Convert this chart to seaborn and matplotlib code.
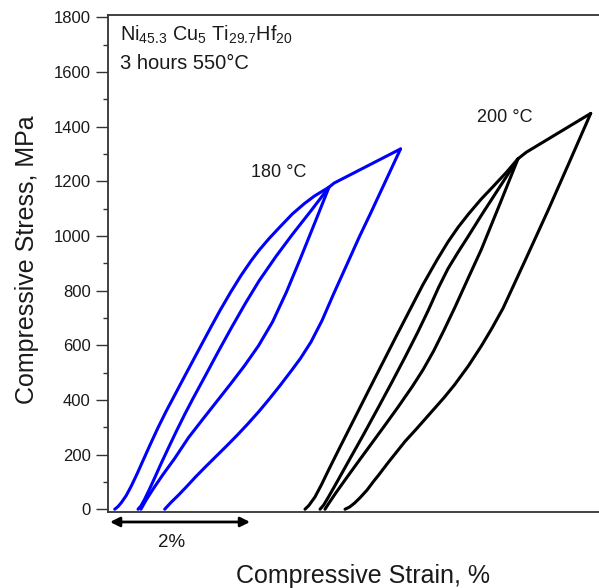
import numpy as np
import pandas as pd
import matplotlib
matplotlib.use("Agg")
import matplotlib.pyplot as plt
import matplotlib.transforms as mtransforms
from matplotlib.ticker import MultipleLocator
import seaborn as sns

# ---------------- data (strain %, stress MPa) ----------------
# 180 °C
strain_180_load1 = [0.096, 0.14, 0.19, 0.26, 0.333, 0.42, 0.50, 0.60, 0.714, 0.83, 0.96, 1.096,
                    1.20, 1.35, 1.476, 1.60, 1.75, 1.90, 2.05, 2.157, 2.30, 2.45, 2.633, 2.80,
                    2.95, 3.157]
stress_180_load1 = [0, 9, 24, 50, 85, 132, 178, 235, 298, 358, 421, 487,
                    537, 609, 669, 727, 793, 855, 911, 947, 990, 1031, 1080, 1117,
                    1146, 1178]

strain_180_unload1 = [3.157, 2.95, 2.75, 2.55, 2.35, 2.15, 1.95, 1.75, 1.55, 1.35, 1.15,
                      0.95, 0.78, 0.65, 0.55, 0.47]
stress_180_unload1 = [1178, 1045, 918, 795, 685, 598, 525, 458, 393, 328, 262,
                      185, 125, 76, 36, 0]

strain_180_load2 = [0.429, 0.47, 0.52, 0.59, 0.667, 0.76, 0.87, 0.976, 1.10, 1.214, 1.40,
                    1.58, 1.761, 1.96, 2.157, 2.40, 2.633, 2.90, 3.157, 3.229, 4.179]
stress_180_load2 = [0, 12, 35, 72, 115, 168, 228, 285, 349, 405, 493,
                    579, 663, 752, 835, 925, 1005, 1092, 1178, 1193, 1318]

strain_180_unload2 = [4.179, 3.95, 3.75, 3.586, 3.40, 3.22, 3.057, 2.90, 2.75, 2.629, 2.45,
                      2.30, 2.157, 2.00, 1.85, 1.70, 1.55, 1.40, 1.25, 1.12, 1.00, 0.90, 0.81]
stress_180_unload2 = [1318, 1192, 1082, 994, 888, 786, 690, 612, 552, 510, 450,
                      402, 358, 313, 272, 233, 195, 157, 118, 82, 50, 25, 0]

# 200 °C
strain_200_load1 = [2.814, 2.87, 2.957, 3.05, 3.15, 3.30, 3.45, 3.60, 3.75, 3.933, 4.10,
                    4.314, 4.50, 4.70, 4.857, 5.00, 5.15, 5.333, 5.50, 5.70, 5.857]
stress_200_load1 = [0, 14, 45, 90, 143, 220, 296, 372, 448, 540, 624,
                    730, 822, 912, 978, 1031, 1080, 1135, 1180, 1235, 1282]

strain_200_unload1 = [5.857, 5.60, 5.333, 5.15, 4.953, 4.80, 4.65, 4.50, 4.35, 4.147, 3.95,
                      3.75, 3.55, 3.40, 3.25, 3.15, 3.10]
stress_200_unload1 = [1282, 1118, 950, 848, 737, 655, 578, 510, 450, 375, 305,
                      235, 165, 112, 58, 20, 0]

strain_200_load2 = [3.029, 3.08, 3.15, 3.25, 3.457, 3.65, 3.861, 4.05, 4.243, 4.42, 4.576,
                    4.72, 4.857, 5.00, 5.15, 5.333, 5.50, 5.70, 5.857, 5.976, 6.896]
stress_200_load2 = [0, 15, 45, 90, 185, 273, 372, 462, 556, 645, 728,
                    810, 880, 940, 1000, 1075, 1141, 1220, 1282, 1306, 1448]

strain_200_unload2 = [6.896, 6.60, 6.286, 5.95, 5.643, 5.48, 5.333, 5.15, 4.95, 4.80, 4.60,
                      4.40, 4.243, 4.00, 3.86, 3.80, 3.70, 3.60, 3.52, 3.45, 3.386]
stress_200_unload2 = [1448, 1275, 1093, 905, 735, 660, 597, 525, 455, 408, 350,
                      292, 248, 170, 123, 104, 70, 42, 22, 8, 0]

temps = ["180 °C", "200 °C"]
yticks = [0, 200, 400, 600, 800, 1000, 1200, 1400, 1600, 1800]
title_lines = [r"Ni$_{\mathrm{45.3}}$ Cu$_{\mathrm{5}}$ Ti$_{\mathrm{29.7}}$Hf$_{\mathrm{20}}$",
               "3 hours 550°C"]

branches = [
    ("180 °C", "180-load1", strain_180_load1, stress_180_load1),
    ("180 °C", "180-unload1", strain_180_unload1, stress_180_unload1),
    ("180 °C", "180-load2", strain_180_load2, stress_180_load2),
    ("180 °C", "180-unload2", strain_180_unload2, stress_180_unload2),
    ("200 °C", "200-load1", strain_200_load1, stress_200_load1),
    ("200 °C", "200-unload1", strain_200_unload1, stress_200_unload1),
    ("200 °C", "200-load2", strain_200_load2, stress_200_load2),
    ("200 °C", "200-unload2", strain_200_unload2, stress_200_unload2),
]
frames = []
for t, b, xs, ys in branches:
    frames.append(pd.DataFrame({"temp": t, "branch": b, "strain": xs, "stress": ys}))
df = pd.concat(frames, ignore_index=True)

# ---------------- style ----------------
sns.set_theme(style="white")
plt.rcParams["font.family"] = ["Liberation Sans", "DejaVu Sans"]
plt.rcParams["mathtext.fontset"] = "custom"
plt.rcParams["mathtext.rm"] = "Liberation Sans"
plt.rcParams["mathtext.it"] = "Liberation Sans:italic"
plt.rcParams["mathtext.bf"] = "Liberation Sans:bold"

TXT = "#1a1a1a"
SPINE = "#333333"

fig = plt.figure(figsize=(5.99, 5.88), dpi=100)
ax = fig.add_axes([108 / 599, 1 - 511.7 / 588, 491 / 599, 496.7 / 588])

sns.lineplot(data=df, x="strain", y="stress", hue="temp", units="branch",
             estimator=None, sort=False,
             palette={"180 °C": "#0000ff", "200 °C": "#000000"},
             linewidth=2.2, legend=False, ax=ax,
             solid_joinstyle="round", solid_capstyle="round")

ax.set_xlim(0, 491 / 70)
ax.set_ylim(-9, 1808)

ax.set_xticks([])
ax.set_yticks(yticks)
ax.set_yticklabels([str(v) for v in yticks])
ax.yaxis.set_minor_locator(MultipleLocator(100))
ax.tick_params(axis="y", which="major", direction="out", length=8.5, width=1.0,
               color=SPINE, labelsize=12, labelcolor=TXT, pad=4, left=True)
ax.tick_params(axis="y", which="minor", direction="out", length=3.8, width=1.0,
               color=SPINE, left=True)

for side in ["left", "top", "bottom"]:
    ax.spines[side].set_visible(True)
    ax.spines[side].set_color(SPINE)
    ax.spines[side].set_linewidth(1.3)
ax.spines["right"].set_visible(False)

ax.set_xlabel("Compressive Strain, %", fontsize=18, color=TXT)
ax.set_ylabel("Compressive Stress, MPa", fontsize=18, color=TXT)
ax.xaxis.set_label_coords(0.519, -0.106)
ax.yaxis.set_label_coords(-0.1405, 0.5067)

# composition / heat treatment text
ax.text(0.0244, 0.9477, title_lines[0], transform=ax.transAxes, fontsize=14.3,
        color=TXT, ha="left", va="baseline")
ax.text(0.0244, 0.8907, title_lines[1], transform=ax.transAxes, fontsize=14.5,
        color=TXT, ha="left", va="baseline")

# temperature labels
ax.text(2.439, 1232, temps[0], fontsize=13, color=TXT, ha="center", va="center")
ax.text(5.671, 1432, temps[1], fontsize=13, color=TXT, ha="center", va="center")

# 2% scale arrow below axis
trans = mtransforms.blended_transform_factory(ax.transData, ax.transAxes)
ax.annotate("", xy=(2.029, -0.0207), xytext=(0.029, -0.0207),
            xycoords=trans, textcoords=trans, annotation_clip=False,
            arrowprops=dict(arrowstyle="<|-|>", color="black", lw=2.0,
                            mutation_scale=14, shrinkA=0, shrinkB=0))
ax.text(0.914, -0.0615, "2%", transform=trans, fontsize=13.5, color=TXT,
        ha="center", va="center", clip_on=False)

fig.savefig("out.png", dpi=100)
